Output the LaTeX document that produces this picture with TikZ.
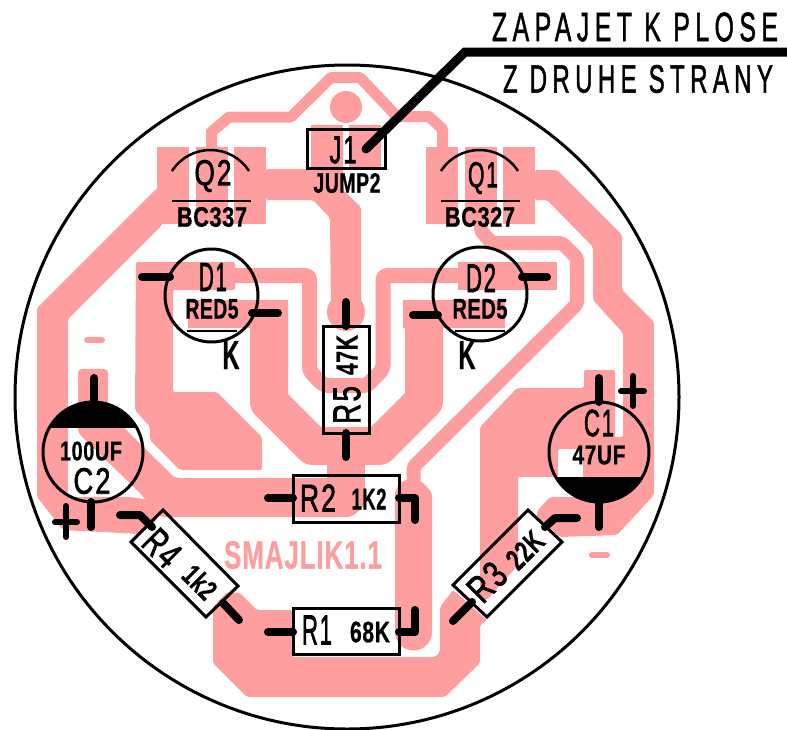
\documentclass[tikz,border=0pt]{standalone}
\usepackage{fontspec}
\usepackage{graphicx}
\setmainfont[FakeBold=2,LetterSpace=8]{Liberation Sans}
\setsansfont[FakeBold=0.8,LetterSpace=3]{Liberation Sans Bold}
\newfontfamily\titlefont[FakeBold=1.6,LetterSpace=22]{Liberation Sans}
\newcommand\lbl[3]{\resizebox*{#1pt}{#2pt}{#3}}
\newcommand\blbl[3]{\resizebox*{#1pt}{#2pt}{\sffamily #3}}
\definecolor{cu}{HTML}{FF9E9E}
\tikzset{
  pcu/.style={fill=cu,draw=none,rounded corners=2pt},
  trace/.style={draw=cu,line join=round,line cap=round},
  lead/.style={draw=black,line width=8pt,line cap=round,line join=round},
  outline/.style={draw=black,line width=3pt},
  txt/.style={inner sep=0pt,text=black},
}
\begin{document}
\begin{tikzpicture}[x=1pt,y=-1pt]
\useasboundingbox (0,0) rectangle (787,729);
% --- copper: pads
\foreach \x in {157,196,234,426,465,503}
  \fill[cu] (\x,147) rectangle (\x+32,224);
\fill[cu] (311,125) rectangle (343,168);
\fill[cu] (349,125) rectangle (381,168);
\fill[cu] (346,107) circle[radius=16pt];
\fill[cu] (346,312) circle[radius=19pt];
% top thin trace
\draw[trace,line width=11pt,line cap=butt] (211.5,147) -- (211.5,132) -- (229,117) -- (291,117) -- (331,77.5) -- (360,77.5) -- (397,116.5) -- (429,116.5) -- (442.5,129) -- (442.5,147);
% Q2 to R5
\path[pcu] (266,169) -- (343,169) -- (343,190) -- (361,207) -- (361,312) -- (331,312) -- (330,218) -- (313,200) -- (266,200) -- cycle;
% Q2 left trace
\path[pcu] (157,188) -- (37,308) -- (37,497) -- (63,530) -- (140,534) -- (157,520) -- (157,510) -- (150,500) -- (130,497) -- (68,497) -- (68,319) -- (163,224) -- cycle;
% C2 pad and band to R2
\path[pcu,rounded corners=4pt] (78,369) -- (108,369) -- (108,412) -- (175,478) -- (355,478) -- (365,485) -- (365,505) -- (352,517) -- (160,517) -- (140,493) -- (78,433) -- cycle;
% D1 big pad
\path[pcu] (136,262) -- (235,262) -- (235,290) -- (173,290) -- (173,392) -- (217,392) -- (262,437) -- (262,470) -- (180,470) -- (150,440) -- (150,427) -- (135,410) -- cycle;
% inner U
\draw[trace,line width=15pt,line cap=butt,rounded corners=4pt] (235,275.5) -- (309.5,275.5) -- (309.5,371) -- (324,385.5) -- (367,385.5) -- (383,369) -- (383,275.5) -- (458,275.5);
\fill[cu] (458,262) rectangle (557,290);
% cathode pads and outer U
\fill[cu] (188,300) rectangle (288,328);
\fill[cu] (403,300) rectangle (505,328);
\draw[trace,line width=38pt,line cap=butt] (269,315) -- (269,402) -- (313,446) -- (379,446) -- (424,401) -- (424,315);
\fill[cu] (327,446) rectangle (365,490);
% Q1 mid trace to R2
\draw[trace,line width=14pt,line cap=butt,rounded corners=3pt] (481,224) -- (481,231) -- (492,243) -- (562,243) -- (577,258) -- (577,304) -- (413.5,467) -- (413.5,490);
% R2-R1 vertical
\path[pcu,rounded corners=4pt] (395,490) -- (403,480) -- (420,480) -- (432,492) -- (432,632) -- (395,632) -- cycle;
\fill[cu] (413.5,632) circle[radius=18.5pt];
% Q1 right band to C1
\path[pcu] (535,170) -- (557,170) -- (622,235) -- (622,290) -- (654,322) -- (654,495) -- (617,535) -- (560,537) -- (537,517) -- (537,511) -- (550,497) -- (583,497) -- (583,437) -- (623,437) -- (623,333) -- (593,300) -- (593,247) -- (547,200) -- (535,200) -- cycle;
% C1 pad and band to R3
\path[pcu] (480,427) -- (517,388) -- (584,388) -- (584,370) -- (615,370) -- (615,449) -- (558,449) -- (558,477) -- (518,477) -- (518,565) -- (487,600) -- (480,600) -- cycle;
\fill[cu] (583,449) rectangle (600,500);
% bottom trace
\path[pcu] (440,607) -- (453,590) -- (487,620) -- (480,625) -- (480,663) -- (445,697) -- (247,697) -- (213,663) -- (213,607) -- (227,592) -- (240,593) -- (257,610) -- (292,610) -- (292,657) -- (435,657) -- (440,652) -- cycle;
% silk in copper
\draw[cu,line width=6pt,line cap=round] (87,340) -- (102,340);
\draw[cu,line width=6pt,line cap=round] (592,555) -- (607,555);
\node[txt,text=cu] (board) at (303,555) {\blbl{158}{28}{SMAJLIK1.1}};
% --- outlines
\draw[outline] (347,397) circle[radius=332pt];
\draw[draw=black,line width=9pt,line cap=round,line join=miter] (366,149) -- (465,52) -- (790,52);
\node[txt] (t1) at (635,27) {\lbl{286}{29}{\titlefont ZAPAJET K PLOSE}};
\node[txt] (t2) at (638,79) {\lbl{270}{28}{\titlefont Z DRUHE STRANY}};
% J1
\draw[outline] (307,129) rectangle (385,168);
\node[txt] (j1) at (343,150) {\lbl{27}{27}{J1}};
\node[txt] (jump) at (347,183) {\blbl{67}{20}{JUMP2}};
% Q2
\draw[draw=black,line width=2.5pt] (172,171) .. controls (190,143) and (231,143) .. (249,171);
\draw[draw=black,line width=2.5pt] (172,201) -- (251,201);
\node[txt] (q2) at (213,176) {\lbl{37}{32}{Q2}};
\node[txt] (bc2) at (212,217) {\blbl{70}{20}{BC337}};
% Q1
\draw[draw=black,line width=2.5pt] (441,171) .. controls (459,143) and (500,143) .. (518,171);
\draw[draw=black,line width=2.5pt] (441,201) -- (520,201);
\node[txt] (q1) at (483,178) {\lbl{30}{32}{Q1}};
\node[txt] (bc1) at (480,217) {\blbl{70}{20}{BC327}};
% D1
\draw[lead] (142,277) -- (170,277);
\draw[lead] (252,313) -- (278,313);
\draw[outline] (211.5,295.5) circle[radius=46.5pt];
\draw[draw=black,line width=2.5pt] (187,331) -- (237,331);
\node[txt] (d1) at (213,277) {\lbl{28}{28}{D1}};
\node[txt] (r1d) at (212,309) {\blbl{53}{20}{RED5}};
\node[txt] (k1) at (231,355) {\blbl{17}{28}{K}};
% D2
\draw[lead] (413,315) -- (438,315);
\draw[lead] (522,277) -- (547,277);
\draw[outline] (480,294) circle[radius=47pt];
\draw[draw=black,line width=2.5pt] (455,331) -- (505,331);
\node[txt] (d2) at (481,278) {\lbl{30}{28}{D2}};
\node[txt] (r2d) at (480,309) {\blbl{55}{20}{RED5}};
\node[txt] (k2) at (467,355) {\blbl{17}{28}{K}};
% R5
\draw[lead] (346,302) -- (346,326);
\draw[lead] (346,433) -- (346,457);
\draw[outline] (323,326) rectangle (369,433);
\node[txt,rotate=90] (r5) at (347,405) {\lbl{38}{27}{R5}};
\node[txt,rotate=90] (v5) at (347,355) {\blbl{40}{21}{47K}};
% R2
\draw[lead] (268,498) -- (293,498);
\draw[lead] (399,498) -- (415,498) -- (415,520);
\draw[outline] (293,475) rectangle (399,522);
\node[txt] (r2) at (318,498) {\lbl{36}{27}{R2}};
\node[txt] (v2) at (369,499) {\blbl{35}{21}{1K2}};
% R1
\draw[lead] (268,632) -- (293,632);
\draw[lead] (399,632) -- (415,632) -- (415,610);
\draw[outline] (293,608) rectangle (399,654);
\node[txt] (r1) at (317,630) {\lbl{30}{29}{R1}};
\node[txt] (v1) at (370,632) {\blbl{40}{21}{68K}};
% R3
\draw[lead] (472,602) -- (453,621);
\draw[lead] (545,527) -- (555,518) -- (577,518);
\draw[outline] (528,510) -- (562,542) -- (487,617) -- (453,585) -- cycle;
\node[txt,rotate=45] (r3) at (487,582) {\lbl{38}{27}{R3}};
\node[txt,rotate=45] (v3) at (525,550) {\blbl{40}{21}{22K}};
% R4
\draw[lead] (120,515) -- (140,515) -- (152,527);
\draw[lead] (223,603) -- (239,620);
\draw[outline] (163,510) -- (238,586) -- (206,617) -- (131,542) -- cycle;
\node[txt,rotate=-45] (r4) at (162,548) {\lbl{36}{27}{R4}};
\node[txt,rotate=-45] (v4) at (200,582) {\blbl{35}{21}{1k2}};
% C1
\begin{scope}
  \clip (540,477) rectangle (660,510);
  \fill[black] (599,452) circle[radius=50pt];
\end{scope}
\draw[outline] (599,452) circle[radius=50pt];
\draw[lead] (599,378) -- (599,402);
\draw[lead] (599,502) -- (599,527);
\node[txt] (c1) at (599,423) {\lbl{30}{27}{C1}};
\node[txt] (c1v) at (599,455) {\blbl{53}{19}{47UF}};
\draw[draw=black,line width=6pt,line cap=round] (621,391) -- (644,391);
\draw[draw=black,line width=6pt,line cap=round] (633,376) -- (633,406);
% C2
\begin{scope}
  \clip (40,395) rectangle (150,427);
  \fill[black] (93,452) circle[radius=50pt];
\end{scope}
\draw[outline] (93,452) circle[radius=50pt];
\draw[lead] (94,378) -- (94,402);
\draw[lead] (91,502) -- (91,527);
\node[txt] (c2) at (92,481) {\lbl{37}{26}{C2}};
\node[txt] (c2v) at (91,451) {\blbl{62}{19}{100UF}};
\draw[draw=black,line width=6pt,line cap=round] (55,522) -- (77,522);
\draw[draw=black,line width=6pt,line cap=round] (66,506) -- (66,537);
\end{tikzpicture}
\end{document}
